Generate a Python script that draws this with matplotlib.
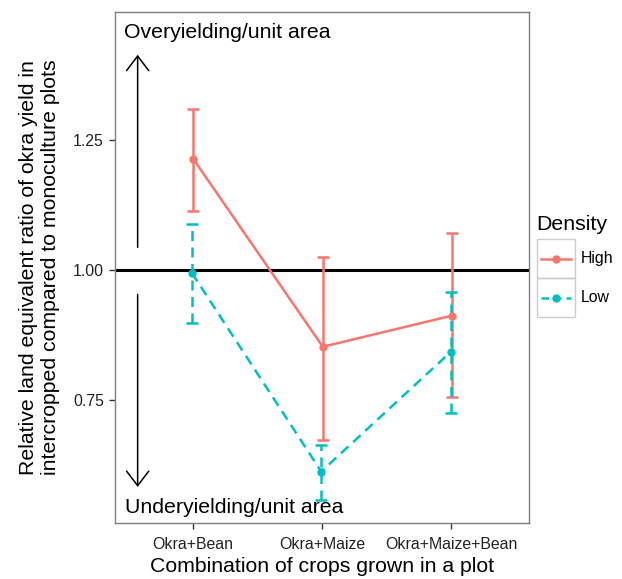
import matplotlib.pyplot as plt
import matplotlib.patches as mpatches
from matplotlib.lines import Line2D

plt.rcParams['font.family'] = ['Liberation Sans', 'DejaVu Sans']

# Data
combos = ["Okra+Bean", "Okra+Maize", "Okra+Maize+Bean"]
high_mean = [1.213, 0.852, 0.912]
high_upper = [1.310, 1.025, 1.071]
high_lower = [1.113, 0.673, 0.756]
low_mean = [0.994, 0.612, 0.842]
low_upper = [1.088, 0.663, 0.958]
low_lower = [0.898, 0.558, 0.725]

red = "#F8766D"
teal = "#00BFC4"
dash = (0, (4, 2.6))

fig = plt.figure(figsize=(6.22, 5.79), dpi=100)
ax = fig.add_axes([0.1849, 0.0967, 0.6656, 0.8826])

x = list(range(1, len(combos) + 1))
xh = [v + 0.006 for v in x]
xl = [v - 0.006 for v in x]

ax.axhline(1.0, color="black", lw=2.2, zorder=2)

# High density
ax.errorbar(xh, high_mean,
            yerr=[[m - lo for m, lo in zip(high_mean, high_lower)],
                  [up - m for m, up in zip(high_mean, high_upper)]],
            fmt="none", ecolor=red, elinewidth=1.8, capsize=4.5, capthick=1.8, zorder=3)
ax.plot(xh, high_mean, color=red, lw=1.8, marker="o", ms=5, zorder=4)

# Low density (dashed)
eb = ax.errorbar(xl, low_mean,
                 yerr=[[m - lo for m, lo in zip(low_mean, low_lower)],
                       [up - m for m, up in zip(low_mean, low_upper)]],
                 fmt="none", ecolor=teal, elinewidth=1.8, capsize=4.5, capthick=1.8, zorder=3)
for lc in eb[2]:
    lc.set_linestyle(dash)
ax.plot(xl, low_mean, color=teal, lw=1.8, ls=dash, marker="o", ms=5, zorder=4)

# Over/under-yielding annotations
arrow = dict(arrowstyle="->,head_length=1.05,head_width=0.8", color="black", lw=1.1)
ax.annotate("", xy=(0.575, 1.419), xytext=(0.575, 1.038), arrowprops=arrow)
ax.annotate("", xy=(0.575, 0.577), xytext=(0.575, 0.958), arrowprops=arrow)
ax.text(0.467, 1.456, "Overyielding/unit area", fontsize=15.3, va="center", ha="left")
ax.text(0.475, 0.542, "Underyielding/unit area", fontsize=15.3, va="center", ha="left")

ax.set_xlim(0.4, 3.6)
ax.set_ylim(0.513, 1.496)
ax.set_xticks(x)
ax.set_xticklabels(combos, fontsize=11.4)
ax.set_yticks([0.75, 1.00, 1.25])
ax.set_yticklabels(["0.75", "1.00", "1.25"], fontsize=11.4)
ax.tick_params(length=4, width=1, color="#333333", labelcolor="#222222", pad=4)
ax.tick_params(axis="x", pad=6)
for s in ax.spines.values():
    s.set_color("#7f7f7f")
    s.set_linewidth(1.0)

ax.set_xlabel("Combination of crops grown in a plot", fontsize=15.3, labelpad=4)
ax.set_ylabel("Relative land equivalent ratio of okra yield in\nintercropped compared to monoculture plots",
              fontsize=15.3, labelpad=9, linespacing=1.2)

# Legend drawn by hand in figure coordinates (ggplot style keys)
W, H = 622, 579
def fx(px):
    return px / W
def fy(py):
    return 1 - py / H

fig.text(fx(536), fy(225), "Density", fontsize=15.3, va="center", ha="left")
labels = ["High", "Low"]
colors = [red, teal]
styles = ["-", (0, (3, 2))]
tops = [239, 278]
for lab, c, st, t in zip(labels, colors, styles, tops):
    fig.patches.append(mpatches.Rectangle((fx(537), fy(t + 39)), fx(38), 39 / H,
                                          transform=fig.transFigure, fill=False,
                                          edgecolor="#cccccc", lw=1.0))
    yc = fy(t + 19.5)
    fig.lines.append(Line2D([fx(541), fx(571)], [yc, yc], transform=fig.transFigure,
                            color=c, lw=1.8, ls=st))
    fig.lines.append(Line2D([fx(556)], [yc], transform=fig.transFigure,
                            color=c, marker="o", ms=5, ls="none"))
    fig.text(fx(581), yc, lab, fontsize=11.4, va="center", ha="left")

fig.savefig("out.png", dpi=100)
